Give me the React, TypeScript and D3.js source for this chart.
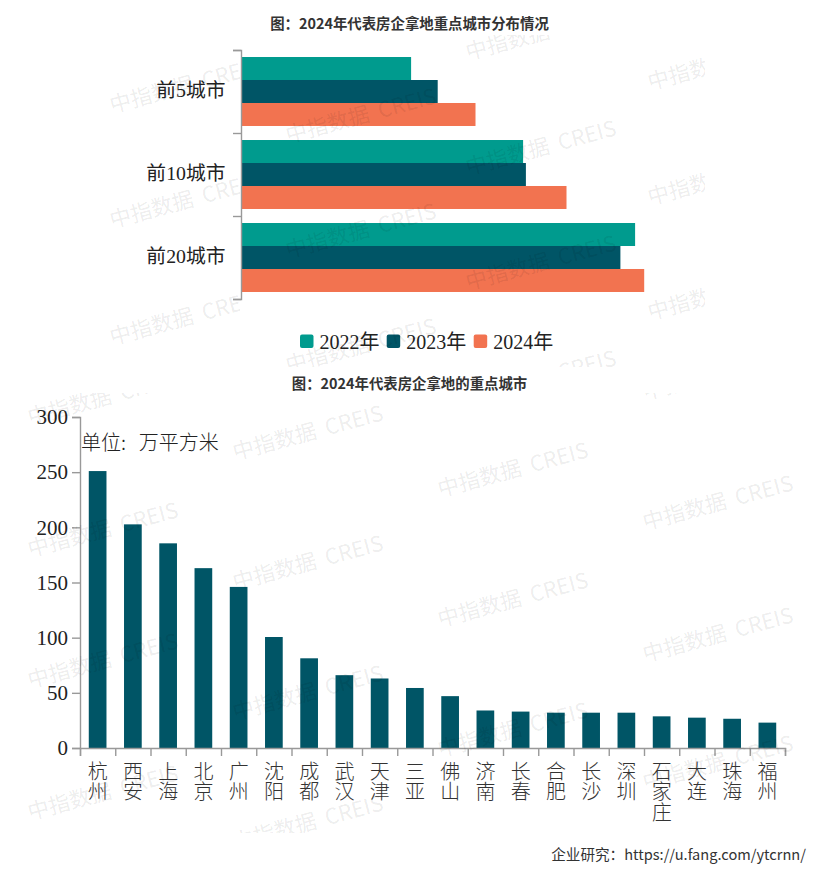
import React, { useEffect, useRef } from "react";
import * as d3 from "d3";

const title1 = "图：2024年代表房企拿地重点城市分布情况";
const title2 = "图：2024年代表房企拿地的重点城市";
const groups = ["前5城市", "前10城市", "前20城市"];
const years = ["2022年", "2023年", "2024年"];
const v2022 = [24.3, 40.3, 56.3];
const v2023 = [28.1, 40.7, 54.2];
const v2024 = [33.5, 46.5, 57.6];
const cities = ["杭州", "西安", "上海", "北京", "广州", "沈阳", "成都", "武汉", "天津", "三亚", "佛山", "济南", "长春", "合肥", "长沙", "深圳", "石家庄", "大连", "珠海", "福州"];
const cityValues = [251, 202.7, 185.5, 163, 146, 100.6, 81.3, 66, 63, 54.4, 47, 34, 33, 32, 32, 32, 28.7, 27.5, 26.5, 23];
const yTicks = [0, 50, 100, 150, 200, 250, 300];
const unitLabel = "单位:  万平方米";
const sourceLabel = "企业研究：https://u.fang.com/ytcrnn/";
const watermark = "中指数据  CREIS";

const colors = ["#009B8E", "#005566", "#F27350"];
const axisColor = "#999999";
const serif = "'Liberation Serif','Noto Sans CJK SC',serif";
const sans = "'Noto Sans CJK SC','Noto Sans',sans-serif";

// Watermark tiles: [x, y]
const wmCol1 = [[112, 113], [112, 228], [112, 345]];
const wmTop = [[288, 143], [288, 258], [288, 373], [468, 60], [468, 175], [468, 290], [468, 405], [650, 90], [650, 205], [650, 320]];
const wmBottom = [
  [30, 425], [30, 557], [30, 688], [30, 820],
  [235, 460], [235, 590], [235, 720], [235, 850],
  [440, 367], [440, 497], [440, 627], [440, 757],
  [645, 400], [645, 530], [645, 662], [645, 790],
];

export default function App() {
  const ref = useRef<SVGSVGElement | null>(null);

  useEffect(() => {
    const svg = d3.select(ref.current);
    svg.selectAll("*").remove();

    const defs = svg.append("defs");
    const addClip = (id: string, x: number, y: number, w: number, h: number) =>
      defs.append("clipPath").attr("id", id).append("rect").attr("x", x).attr("y", y).attr("width", w).attr("height", h);
    addClip("clipCol1", 0, 35, 240, 332);
    addClip("clipTop", 240, 35, 465, 332);
    addClip("clipBottom", 0, 393, 826, 440);

    svg.append("rect").attr("width", 826).attr("height", 876).attr("fill", "#fff");

    // ---------- Top chart ----------
    const top = svg.append("g");
    const y0 = d3.scaleBand<string>().domain(groups).range([50, 299]).paddingInner(0.169).paddingOuter(0.0845);
    const y1 = d3.scaleBand<string>().domain(years).range([0, y0.bandwidth()]);
    const x = d3.scaleLinear().domain([0, 60]).range([241, 661]);
    const series = [v2022, v2023, v2024];

    years.forEach((yr, si) => {
      top.append("g").selectAll("rect").data(series[si]).join("rect")
        .attr("x", x(0))
        .attr("y", (_, i) => (y0(groups[i]) as number) + (y1(yr) as number))
        .attr("width", (d) => x(d) - x(0))
        .attr("height", y1.bandwidth())
        .attr("fill", colors[si]);
    });

    const yEdge = d3.scaleLinear().domain([0, groups.length]).range([50, 299]);
    const axL = top.append("g").attr("transform", "translate(241,0)")
      .call(d3.axisLeft(yEdge).tickValues(d3.range(groups.length + 1)).tickSize(8).tickFormat(() => ""));
    axL.selectAll("path,line").attr("stroke", axisColor).attr("stroke-width", 1.4);

    top.append("g").selectAll("text").data(groups).join("text")
      .attr("x", 225.5)
      .attr("y", (d) => (y0(d) as number) + y0.bandwidth() / 2 + 5)
      .attr("text-anchor", "end")
      .attr("font-family", serif)
      .attr("font-size", 19.8)
      .attr("fill", "#222")
      .text((d) => d);

    svg.append("text").attr("x", 409.5).attr("y", 29).attr("text-anchor", "middle")
      .attr("font-family", sans).attr("font-size", 14.4).attr("font-weight", 700).attr("fill", "#333").text(title1);

    // Legend
    const legX = d3.scaleOrdinal<string, number>().domain(years).range([300, 386.7, 473.7]);
    const leg = svg.append("g");
    leg.selectAll("rect").data(years).join("rect")
      .attr("x", (d) => legX(d)).attr("y", 334.5).attr("width", 13.5).attr("height", 13.5).attr("rx", 2)
      .attr("fill", (_, i) => colors[i]);
    leg.selectAll("text").data(years).join("text")
      .attr("x", (d) => legX(d) + 19.5).attr("y", 348.5)
      .attr("font-family", serif).attr("font-size", 20).attr("fill", "#222").text((d) => d);

    // ---------- Bottom chart ----------
    svg.append("text").attr("x", 409.5).attr("y", 389).attr("text-anchor", "middle")
      .attr("font-family", sans).attr("font-size", 14.4).attr("font-weight", 700).attr("fill", "#333").text(title2);

    const bot = svg.append("g");
    const xb = d3.scaleBand<string>().domain(cities).range([80, 785]).padding(0).paddingInner(0);
    const yb = d3.scaleLinear().domain([0, 300]).range([748, 417]);
    const bw = 17.7;

    bot.append("g").selectAll("rect").data(cityValues).join("rect")
      .attr("x", (_, i) => (xb(cities[i]) as number) + xb.bandwidth() / 2 - bw / 2)
      .attr("y", (d) => yb(d))
      .attr("width", bw)
      .attr("height", (d) => yb(0) - yb(d))
      .attr("fill", "#005566");

    const axY = bot.append("g").attr("transform", "translate(80,0)")
      .call(d3.axisLeft(yb).tickValues(yTicks).tickSize(8).tickPadding(4));
    axY.selectAll("path,line").attr("stroke", axisColor).attr("stroke-width", 1.4);
    axY.selectAll("text").attr("font-family", serif).attr("font-size", 21).attr("fill", "#222");

    const xEdge = d3.scaleLinear().domain([0, cities.length]).range([80, 785]);
    const axX = bot.append("g").attr("transform", "translate(0,748)")
      .call(d3.axisBottom(xEdge).tickValues(d3.range(cities.length + 1)).tickSize(8).tickFormat(() => ""));
    axX.selectAll("path,line").attr("stroke", axisColor).attr("stroke-width", 1.4);

    const lab = bot.append("g").selectAll("text").data(cities).join("text")
      .attr("text-anchor", "middle")
      .attr("font-family", sans)
      .attr("font-weight", 300)
      .attr("font-size", 20)
      .attr("fill", "#333");
    lab.each(function (d) {
      const t = d3.select(this);
      Array.from(d).forEach((ch, i) => {
        t.append("tspan")
          .attr("x", (xb(d) as number) + xb.bandwidth() / 2)
          .attr("y", 779 + i * 20.3)
          .text(ch);
      });
    });

    svg.append("text").attr("x", 81).attr("y", 450)
      .attr("font-family", sans).attr("font-weight", 300).attr("font-size", 20).attr("fill", "#222")
      .style("white-space", "pre").attr("word-spacing", 2).text(unitLabel);

    svg.append("text").attr("x", 806).attr("y", 860).attr("text-anchor", "end")
      .attr("font-family", sans).attr("font-size", 14.6).attr("fill", "#333").text(sourceLabel);

    // ---------- Watermarks ----------
    const drawWm = (pts: number[][], clip: string) => {
      svg.append("g").attr("clip-path", `url(#${clip})`).selectAll("text").data(pts).join("text")
        .attr("transform", (d) => `translate(${d[0]},${d[1]}) rotate(-15)`)
        .attr("font-family", sans)
        .attr("font-size", 21.5)
        .attr("fill", "#000")
        .attr("fill-opacity", 0.085)
        .style("white-space", "pre")
        .text(watermark);
    };
    drawWm(wmCol1, "clipCol1");
    drawWm(wmTop, "clipTop");
    drawWm(wmBottom, "clipBottom");
  }, []);

  return <svg ref={ref} width={826} height={876} style={{ position: "absolute", left: 0, top: 0 }} />;
}
